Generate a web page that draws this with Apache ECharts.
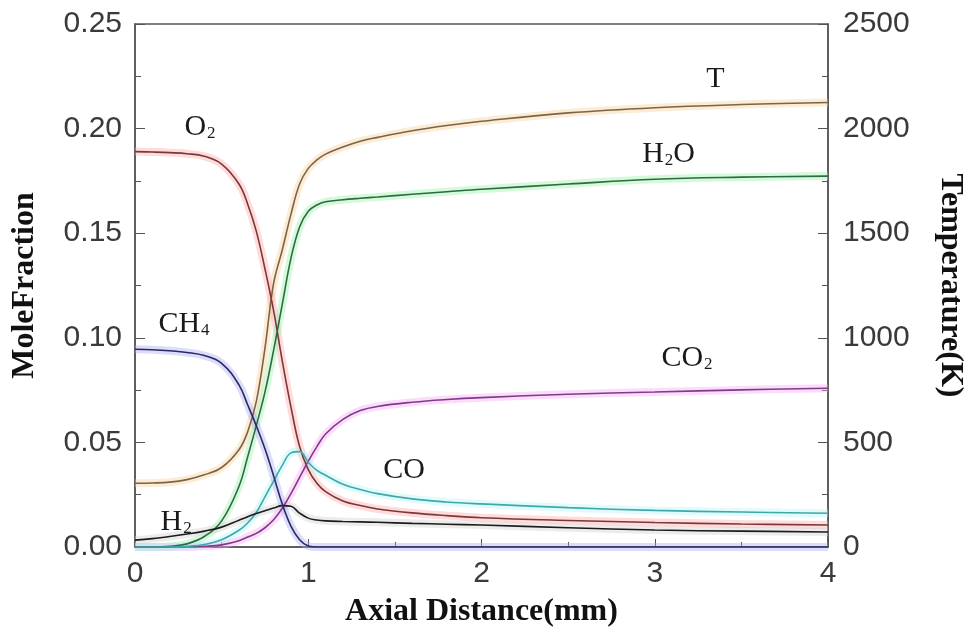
<!DOCTYPE html>
<html><head><meta charset="utf-8">
<script src="https://cdn.jsdelivr.net/npm/echarts@6/dist/echarts.min.js"></script>
<style>html,body{margin:0;padding:0;background:#fff}#c{width:976px;height:638px}</style>
</head><body><div id="c"></div>
<script>
// Axial distance grid (mm)
const xs = [0, 0.1, 0.2, 0.3, 0.4, 0.5, 0.6, 0.65, 0.7, 0.75, 0.8, 0.85, 0.9, 0.95, 1.0, 1.05, 1.1, 1.2, 1.3, 1.4, 1.6, 1.8, 2.0, 2.5, 3.0, 3.5, 4.0];
// Mole fractions
const O2  = [0.189, 0.1888, 0.1885, 0.1880, 0.1868, 0.1830, 0.1735, 0.1640, 0.1510, 0.1330, 0.1130, 0.0890, 0.0670, 0.0480, 0.0370, 0.0305, 0.0265, 0.0220, 0.0198, 0.0182, 0.0163, 0.0150, 0.0140, 0.0127, 0.0117, 0.0110, 0.0105];
const H2O = [0, 0, 0.0003, 0.0015, 0.0050, 0.0125, 0.0290, 0.0430, 0.0580, 0.0740, 0.0940, 0.1160, 0.1380, 0.1530, 0.1605, 0.1635, 0.1650, 0.1660, 0.1667, 0.1673, 0.1686, 0.1698, 0.1710, 0.1735, 0.1758, 0.1768, 0.1773];
const CH4 = [0.0945, 0.0943, 0.0938, 0.0930, 0.0915, 0.0878, 0.0775, 0.0680, 0.0580, 0.0470, 0.0340, 0.0205, 0.0100, 0.0035, 0.0005, 0, 0, 0, 0, 0, 0, 0, 0, 0, 0, 0, 0];
const CO  = [0, 0, 0, 0.0003, 0.0012, 0.0035, 0.0080, 0.0115, 0.0165, 0.0240, 0.0315, 0.0390, 0.0450, 0.0456, 0.0405, 0.0366, 0.0343, 0.0300, 0.0275, 0.0255, 0.0230, 0.0215, 0.0206, 0.0188, 0.0175, 0.0167, 0.0161];
const CO2 = [0, 0, 0, 0, 0.0003, 0.0010, 0.0030, 0.0048, 0.0065, 0.0092, 0.0130, 0.0185, 0.0255, 0.0333, 0.0410, 0.0480, 0.0540, 0.0610, 0.0652, 0.0672, 0.0692, 0.0705, 0.0714, 0.0730, 0.0741, 0.0751, 0.0759];
const H2  = [0.0033, 0.0040, 0.0050, 0.0062, 0.0076, 0.0095, 0.0128, 0.0145, 0.0160, 0.0173, 0.0186, 0.0198, 0.0195, 0.0162, 0.0138, 0.0129, 0.0125, 0.0122, 0.0120, 0.0118, 0.0113, 0.0109, 0.0105, 0.0092, 0.0081, 0.0076, 0.0072];
// Temperature (K)
const T   = [305, 306, 310, 322, 345, 380, 465, 550, 695, 950, 1260, 1420, 1590, 1735, 1810, 1850, 1878, 1912, 1940, 1958, 1990, 2015, 2035, 2075, 2100, 2115, 2125];

// Axis tick settings
const xTickValues = [0, 1, 2, 3, 4];
const yLeftTicks = [0, 0.05, 0.10, 0.15, 0.20, 0.25];
const yRightTicks = [0, 500, 1000, 1500, 2000, 2500];

// Series label anchor points (data units)
const labelPos = {
  O2: [0.375, 0.2012], H2O: [3.08, 0.1883], CH4: [0.283, 0.1071],
  CO2: [3.186, 0.0908], CO: [1.553, 0.0373], H2: [0.237, 0.0124], T: [3.35, 2242]
};

const pairs = ys => xs.map((x, i) => [x, ys[i]]);
const serif = 'Liberation Serif, Times New Roman, serif';
const rich = {
  a: {fontFamily: serif, fontSize: 30, color: '#1a1a1a', verticalAlign: 'bottom', lineHeight: 32},
  s: {fontFamily: serif, fontSize: 17, color: '#1a1a1a', verticalAlign: 'bottom', lineHeight: 32, padding: [0, 0, 0, 1]}
};
function mk(fmt, pos) {
  return {
    symbol: 'circle', symbolSize: 1, silent: true,
    itemStyle: {color: 'rgba(0,0,0,0)'},
    label: {show: true, position: 'inside', formatter: fmt, rich: rich},
    data: [{coord: pos}]
  };
}

const defs = [
  {name: 'T', ys: T, axis: 1, core: '#7d6446', halo: '#f8cf98', label: '{a|T}'},
  {name: 'O2', ys: O2, axis: 0, core: '#7a3838', halo: '#ffa4a4', label: '{a|O}{s|2}'},
  {name: 'H2O', ys: H2O, axis: 0, core: '#2e6a44', halo: '#93f2a6', label: '{a|H}{s|2}{a|O}'},
  {name: 'CO2', ys: CO2, axis: 0, core: '#803a8c', halo: '#f5a8f5', label: '{a|CO}{s|2}'},
  {name: 'CO', ys: CO, axis: 0, core: '#3fa8a8', halo: '#aef6f6', label: '{a|CO}'},
  {name: 'H2', ys: H2, axis: 0, core: '#1c1c1c', halo: '#cfcfcf', label: '{a|H}{s|2}'},
  {name: 'CH4', ys: CH4, axis: 0, core: '#2a2a60', halo: '#a8a8f5', label: '{a|CH}{s|4}'}
];

const series = [];
defs.forEach(d => {
  series.push({
    type: 'line', yAxisIndex: d.axis, data: pairs(d.ys), showSymbol: false,
    smooth: 0.4, silent: true, z: 1,
    lineStyle: {width: 8, color: d.halo, opacity: 0.4}
  });
});
defs.forEach(d => {
  series.push({
    name: d.name, type: 'line', yAxisIndex: d.axis, data: pairs(d.ys), showSymbol: false,
    smooth: 0.4, z: 3,
    lineStyle: {width: 1.6, color: d.core},
    markPoint: mk(d.label, labelPos[d.name])
  });
});

const axisCol = '#555';
const tickLabel = {fontFamily: 'Liberation Sans, Arial, sans-serif', fontSize: 30, color: '#3a3a3a'};
const nameStyle = {fontFamily: serif, fontWeight: 'bold', fontSize: 32, color: '#111'};

const chart = echarts.init(document.getElementById('c'), null, {renderer: 'canvas'});
chart.setOption({
  animation: false,
  backgroundColor: '#fff',
  grid: {left: 135, right: 148, top: 24, bottom: 91, show: true, borderColor: axisCol, borderWidth: 1.5, backgroundColor: 'transparent'},
  xAxis: {
    type: 'value', min: 0, max: 4, interval: 1,
    name: 'Axial Distance(mm)', nameLocation: 'middle', nameGap: 49, nameTextStyle: nameStyle,
    axisLine: {lineStyle: {color: axisCol, width: 1.5}},
    axisTick: {inside: true, length: 8, lineStyle: {color: axisCol}},
    minorTick: {show: true, splitNumber: 2, length: 5, lineStyle: {color: axisCol}},
    splitLine: {show: false},
    axisLabel: Object.assign({margin: 12, formatter: v => xTickValues.includes(v) ? String(v) : ''}, tickLabel)
  },
  yAxis: [{
    type: 'value', min: 0, max: 0.25, interval: 0.05, position: 'left',
    name: 'MoleFraction', nameLocation: 'middle', nameRotate: 90, nameGap: 94, nameTextStyle: nameStyle,
    axisLine: {show: true, lineStyle: {color: axisCol, width: 1.5}},
    axisTick: {show: true, inside: true, length: 10, lineStyle: {color: axisCol}},
    minorTick: {show: true, splitNumber: 2, length: 6, lineStyle: {color: axisCol}},
    splitLine: {show: false},
    axisLabel: Object.assign({margin: 13, formatter: v => {
      const t = yLeftTicks.find(k => Math.abs(k - v) < 1e-9);
      return t === undefined ? '' : t.toFixed(2);
    }}, tickLabel)
  }, {
    type: 'value', min: 0, max: 2500, interval: 500, position: 'right',
    name: 'Temperature(K)', nameLocation: 'middle', nameRotate: -90, nameGap: 106, nameTextStyle: nameStyle,
    axisLine: {show: true, lineStyle: {color: axisCol, width: 1.5}},
    axisTick: {show: true, inside: true, length: 10, lineStyle: {color: axisCol}},
    minorTick: {show: true, splitNumber: 2, length: 6, lineStyle: {color: axisCol}},
    splitLine: {show: false},
    axisLabel: Object.assign({margin: 15, formatter: v => yRightTicks.includes(v) ? String(v) : ''}, tickLabel)
  }],
  series: series
});
</script>
</body></html>
